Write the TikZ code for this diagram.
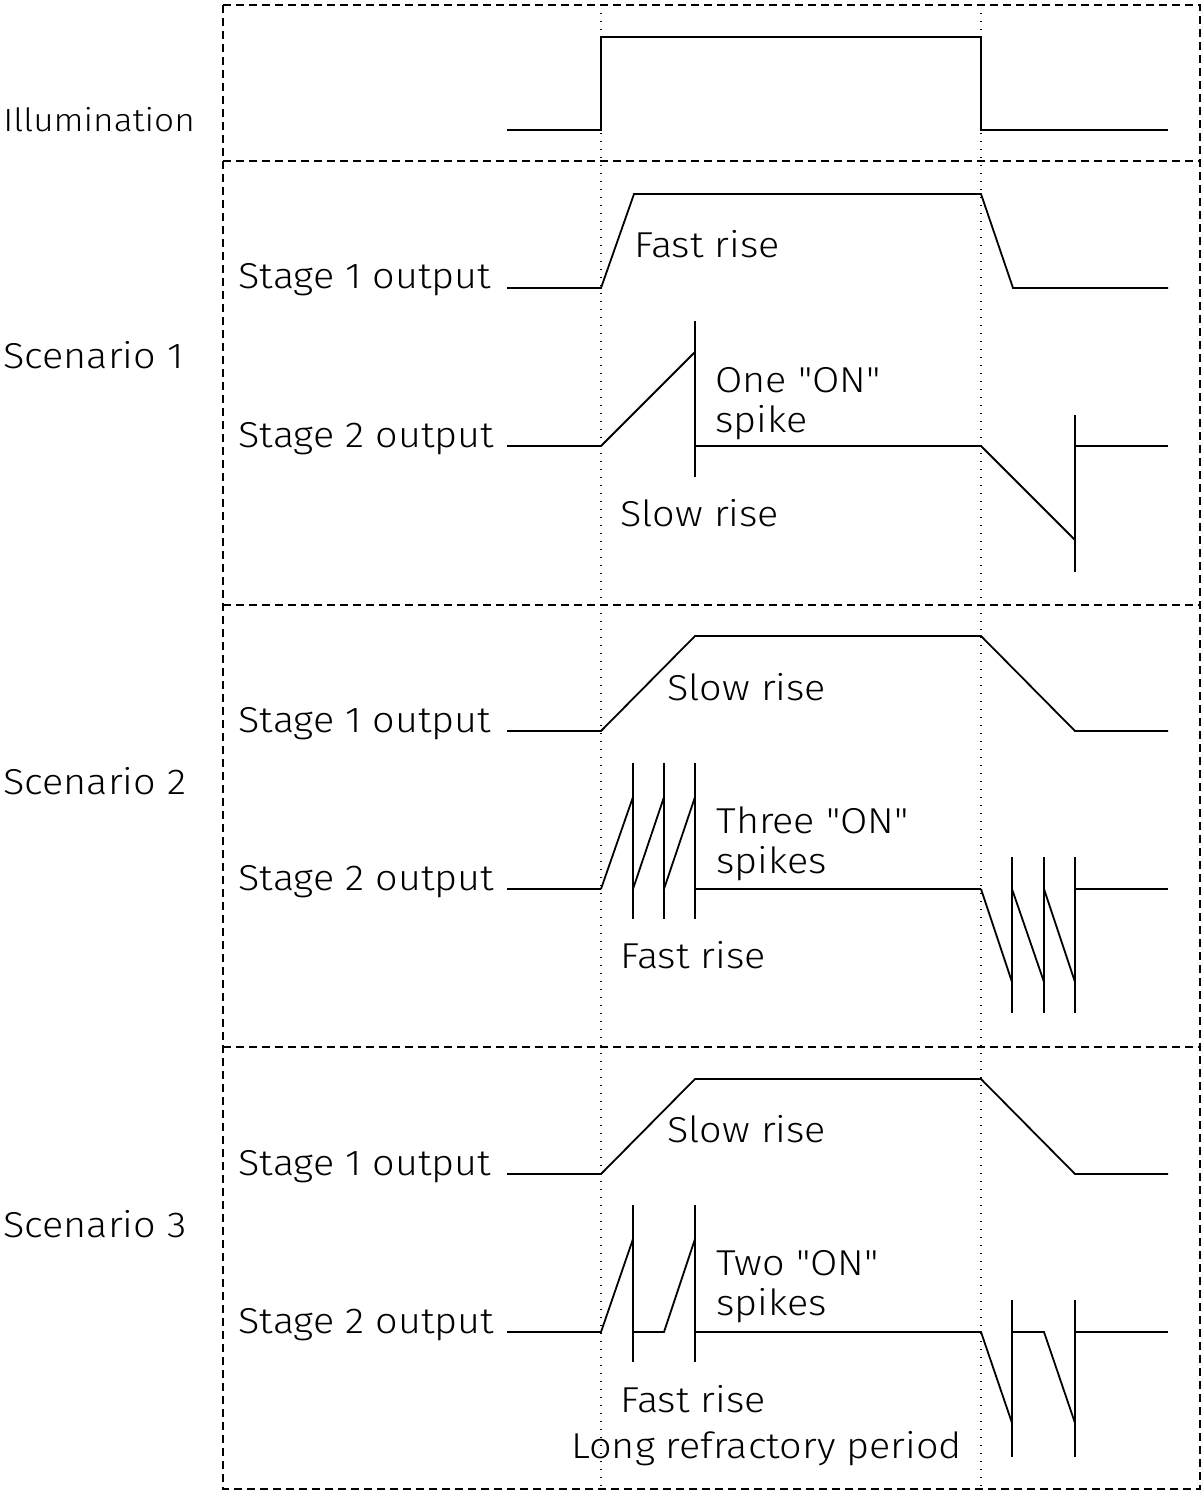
\documentclass[tikz,border=0pt]{standalone}
\usepackage{fontspec}
\newfontfamily\plotfont{Fira Sans Light}[FakeStretch=1.1]
\usetikzlibrary{positioning}

\begin{document}
\begin{tikzpicture}[
    x=0.5pt, y=-0.5pt,
    every node/.style={font=\plotfont\fontsize{18}{21}\selectfont, inner sep=0pt},
    sig/.style={line width=0.9pt, line join=miter},
    frm/.style={line width=0.7pt, dash pattern=on 4pt off 2.5pt},
    grd/.style={line width=0.7pt, dash pattern=on 0.7pt off 3.3pt},
    lab/.style={anchor=base west},
    small/.style={anchor=base west, font=\plotfont\fontsize{16}{19}\selectfont}
  ]
  \useasboundingbox (0,0) rectangle (1203,1492);
  %% frame, section rules and the two time guides
  \draw[frm] (223,5) rectangle (1200,1489);
  \foreach \yy in {161,605,1047}
    \draw[frm] (223,\yy) -- (1200,\yy);
  \foreach \xx in {601,981}
    \draw[grd] (\xx,5) -- (\xx,1489);

  %% Illumination
  \node[small] (illum) at (3,132) {Illumination};
  \draw[sig] (507,130) -- (601,130) -- (601,37) -- (981,37) -- (981,130) -- (1168,130);

  %% Scenario 1
  \node[lab] (scA)  at (3,368)   {Scenario 1};
  \node[lab] (stA1) at (238,289) {Stage 1 output};
  \node[lab] (stA2) at (238,447) {Stage 2 output};
  \draw[sig] (507,288) -- (601,288) -- (634,194) -- (981,194) -- (1013,288) -- (1168,288);
  \draw[sig] (507,446) -- (601,446) -- (695,352);
  \draw[sig] (695,321) -- (695,477);
  \draw[sig] (695,446) -- (981,446) -- (1075,540);
  \draw[sig] (1075,415) -- (1075,572);
  \draw[sig] (1075,446) -- (1168,446);
  \node[lab] (fastA) at (634,258) {Fast rise};
  \node[lab] (onA)   at (715,393) {One "ON"};
  \node[lab] (spkA)  at (715,432) {spike};
  \node[lab] (slowA) at (620,526) {Slow rise};

  %% Scenario 2
  \node[lab] (scB)  at (3,794)   {Scenario 2};
  \node[lab] (stB1) at (238,732) {Stage 1 output};
  \node[lab] (stB2) at (238,890) {Stage 2 output};
  \draw[sig] (507,731) -- (601,731) -- (695,636) -- (981,636) -- (1075,731) -- (1168,731);
  \draw[sig] (507,889) -- (601,889);
  \foreach \a/\b in {601/633,633/664,664/695}{
    \draw[sig] (\a,889) -- (\b,797);
    \draw[sig] (\b,763) -- (\b,919);
  }
  \draw[sig] (695,889) -- (981,889);
  \foreach \a/\b in {981/1012,1012/1044,1044/1075}{
    \draw[sig] (\a,889) -- (\b,982);
    \draw[sig] (\b,857) -- (\b,1013);
  }
  \draw[sig] (1075,889) -- (1168,889);
  \node[lab] (slowB) at (667,700) {Slow rise};
  \node[lab] (onB)   at (716,833) {Three "ON"};
  \node[lab] (spkB)  at (716,873) {spikes};
  \node[lab] (fastB) at (620,968) {Fast rise};

  %% Scenario 3
  \node[lab] (scC)  at (3,1237)   {Scenario 3};
  \node[lab] (stC1) at (238,1175) {Stage 1 output};
  \node[lab] (stC2) at (238,1333) {Stage 2 output};
  \draw[sig] (507,1174) -- (601,1174) -- (695,1079) -- (981,1079) -- (1075,1174) -- (1168,1174);
  \draw[sig] (507,1332) -- (601,1332) -- (633,1239);
  \draw[sig] (633,1205) -- (633,1362);
  \draw[sig] (633,1332) -- (664,1332) -- (695,1239);
  \draw[sig] (695,1205) -- (695,1362);
  \draw[sig] (695,1332) -- (981,1332) -- (1012,1423);
  \draw[sig] (1012,1300) -- (1012,1457);
  \draw[sig] (1012,1332) -- (1044,1332) -- (1075,1423);
  \draw[sig] (1075,1300) -- (1075,1457);
  \draw[sig] (1075,1332) -- (1168,1332);
  \node[lab] (slowC) at (667,1142) {Slow rise};
  \node[lab] (onC)   at (716,1275) {Two "ON"};
  \node[lab] (spkC)  at (716,1315) {spikes};
  \node[lab] (fastC) at (620,1412) {Fast rise};
  \node[lab] (longC) at (571,1458) {Long refractory period};
\end{tikzpicture}
\end{document}
